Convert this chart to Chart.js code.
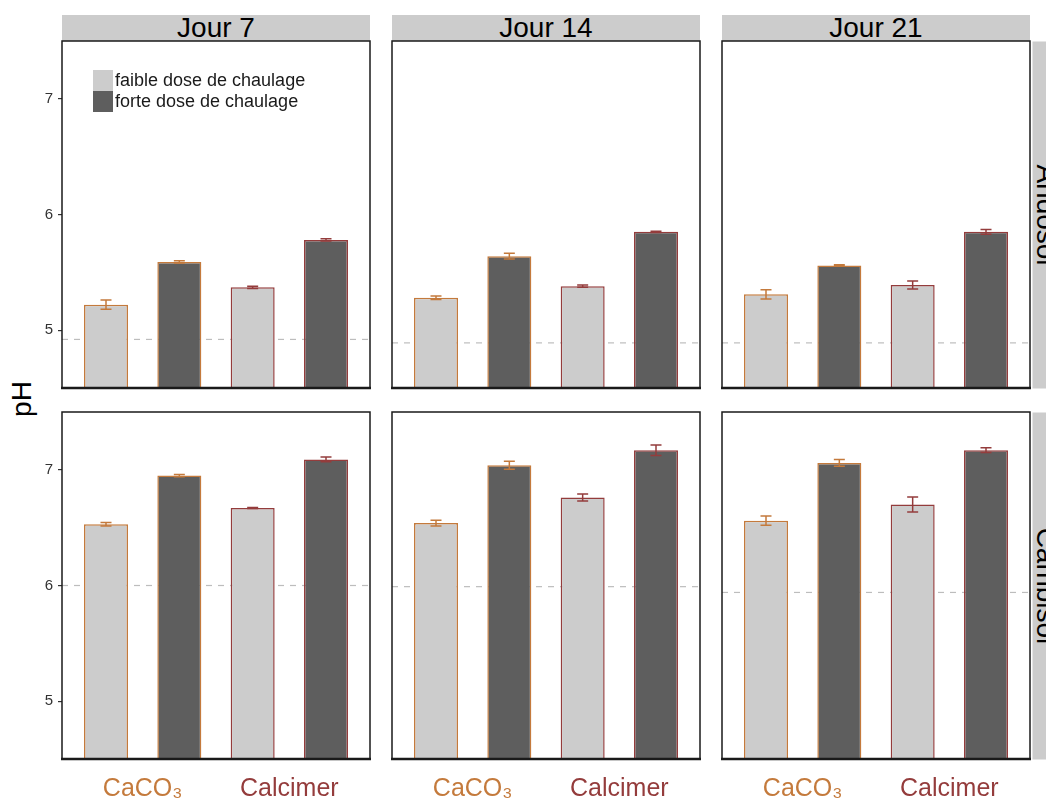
<!DOCTYPE html>
<html>
<head>
<meta charset="utf-8">
<title>pH par jour et par sol</title>
<script src="https://cdn.jsdelivr.net/npm/chart.js@4.4.1/dist/chart.umd.min.js"></script>
<style>
  html, body { margin: 0; padding: 0; background: #fff; overflow: hidden; }
  body { width: 1046px; height: 798px; position: relative; font-family: 'Liberation Sans', Arial, 'DejaVu Sans', sans-serif; }
  canvas { position: absolute; }
  .strip { position: absolute; background: #cccccc; color: #000; font-size: 28px; line-height: 26px; text-align: center; white-space: nowrap; }
  .ylab { position: absolute; font-size: 28px; color: #000; transform: rotate(-90deg); white-space: nowrap; }
  .legend { position: absolute; left: 93px; top: 70px; font-size: 18px; color: #1a1a1a; }
  .legend div { display: flex; align-items: center; height: 21px; }
  .legend span.key { width: 20px; height: 21px; margin-right: 2px; display: inline-block; }
</style>
</head>
<body>
<div id="root"></div>
<script>
// Facets and groups
const days = ['Jour 7', 'Jour 14', 'Jour 21'];
const soils = ['Andosol', 'Cambisol'];
const products = ['CaCO₃', 'Calcimer'];
const doses = ['faible dose de chaulage', 'forte dose de chaulage'];

// Bar order in every panel: CaCO3 faible, CaCO3 forte, Calcimer faible, Calcimer forte
// one row per day
const andosolPH = [
  [5.22, 5.59, 5.37, 5.78],
  [5.28, 5.64, 5.38, 5.85],
  [5.31, 5.56, 5.39, 5.85]
];
const andosolErr = [
  [0.04, 0.01, 0.01, 0.01],
  [0.015, 0.025, 0.01, 0.005],
  [0.04, 0.005, 0.035, 0.02]
];
const cambisolPH = [
  [6.53, 6.95, 6.67, 7.09],
  [6.54, 7.04, 6.76, 7.17],
  [6.56, 7.06, 6.70, 7.17]
];
const cambisolErr = [
  [0.015, 0.01, 0.005, 0.02],
  [0.025, 0.035, 0.03, 0.045],
  [0.04, 0.03, 0.065, 0.02]
];
// initial soil pH (dashed line)
const andosolInitial = [4.92, 4.89, 4.89];
const cambisolInitial = [6.00, 5.99, 5.94];

const yTicks = [5, 6, 7];

const productColors = ['#c47a3c', '#943c3c'];
const doseColors = ['#cccccc', '#5e5e5e'];
const FONT = "'Liberation Sans', Arial, 'DejaVu Sans', sans-serif";

// Layout of the grid
const panelLeft = [62, 392, 722];
const panelTop = [41, 412];
const panelW = 308, panelH = 347;
const pad = 3;

const root = document.getElementById('root');

function addDiv(cls, text, style) {
  const d = document.createElement('div');
  d.className = cls;
  d.textContent = text;
  Object.assign(d.style, style);
  root.appendChild(d);
  return d;
}

// Top strips
days.forEach((d, c) => {
  addDiv('strip', d, { left: panelLeft[c] + 'px', top: '15px', width: panelW + 'px', height: '26px' });
});

// Right strips (rotated)
soils.forEach((s, r) => {
  addDiv('strip', s, {
    left: (1032 + 13 - panelH / 2) + 'px',
    top: (panelTop[r] + panelH / 2 - 13) + 'px',
    width: panelH + 'px', height: '26px',
    transform: 'rotate(90deg)'
  });
});

// y axis title
addDiv('ylab', 'pH', { left: '4px', top: '383px' });

// Legend
const legend = document.createElement('div');
legend.className = 'legend';
doses.forEach((d, i) => {
  const row = document.createElement('div');
  row.innerHTML = `<span class="key" style="background:${doseColors[i]}"></span><span>${d}</span>`;
  legend.appendChild(row);
});

// Draw dashed baseline, error bars and panel frame
function makePanelPlugin(values, errors, initial) {
  return {
    id: 'panelDecor',
    beforeDatasetsDraw(chart) {
      const { ctx, chartArea: a, scales: { y } } = chart;
      const yy = y.getPixelForValue(initial);
      ctx.save();
      ctx.strokeStyle = '#bdbdbd';
      ctx.lineWidth = 1.2;
      ctx.setLineDash([6, 6]);
      ctx.beginPath();
      ctx.moveTo(a.left, yy);
      ctx.lineTo(a.right, yy);
      ctx.stroke();
      ctx.restore();
    },
    afterDatasetsDraw(chart) {
      const { ctx, chartArea: a, scales: { y } } = chart;
      const meta = chart.getDatasetMeta(0);
      ctx.save();
      ctx.lineWidth = 1.5;
      meta.data.forEach((bar, i) => {
        const top = y.getPixelForValue(values[i] + errors[i]);
        const bot = y.getPixelForValue(values[i] - errors[i]);
        ctx.strokeStyle = productColors[Math.floor(i / 2)];
        ctx.beginPath();
        ctx.moveTo(bar.x, top); ctx.lineTo(bar.x, bot);
        ctx.moveTo(bar.x - 5.5, top); ctx.lineTo(bar.x + 5.5, top);
        ctx.moveTo(bar.x - 5.5, bot); ctx.lineTo(bar.x + 5.5, bot);
        ctx.stroke();
      });
      ctx.strokeStyle = '#1a1a1a';
      ctx.lineWidth = 1.5;
      ctx.strokeRect(a.left, a.top, a.right - a.left, a.bottom - a.top);
      ctx.lineWidth = 2.5;
      ctx.beginPath();
      ctx.moveTo(a.left - 1, a.bottom);
      ctx.lineTo(a.right + 1, a.bottom);
      ctx.stroke();
      ctx.restore();
    }
  };
}

function makePanel(r, c) {
  const values = r === 0 ? andosolPH[c] : cambisolPH[c];
  const errors = r === 0 ? andosolErr[c] : cambisolErr[c];
  const initial = r === 0 ? andosolInitial[c] : cambisolInitial[c];
  const yW = c === 0 ? 62 : 0;
  const xH = r === 1 ? 39 : 0;

  const canvas = document.createElement('canvas');
  canvas.width = yW + panelW + 2 * pad;
  canvas.height = panelH + xH + 2 * pad;
  canvas.style.left = (panelLeft[c] - yW - pad) + 'px';
  canvas.style.top = (panelTop[r] - pad) + 'px';
  root.appendChild(canvas);

  new Chart(canvas, {
    type: 'bar',
    data: {
      datasets: [{
        data: values.map((v, i) => ({ x: i + 1, y: v })),
        backgroundColor: values.map((v, i) => doseColors[i % 2]),
        borderColor: values.map((v, i) => productColors[Math.floor(i / 2)]),
        borderWidth: 1.5,
        borderSkipped: false,
        categoryPercentage: 1,
        barPercentage: 0.6
      }]
    },
    options: {
      responsive: false,
      animation: false,
      devicePixelRatio: 1,
      layout: { padding: pad },
      plugins: { legend: { display: false }, tooltip: { enabled: false } },
      scales: {
        x: {
          type: 'linear',
          min: 0.4,
          max: 4.6,
          offset: false,
          display: r === 1,
          grid: { display: false, offset: false },
          border: { display: false },
          afterBuildTicks: s => { s.ticks = products.map((p, k) => ({ value: 2 * k + 1.5 })); },
          afterFit: s => { s.height = xH; s.paddingLeft = 0; s.paddingRight = 0; },
          ticks: {
            padding: 7,
            font: { size: 25, family: FONT },
            color: ctx => productColors[ctx.index],
            callback: (v, i) => products[i]
          }
        },
        y: {
          min: 4.5,
          max: 7.5,
          display: c === 0,
          border: { display: false },
          grid: { drawOnChartArea: false, drawTicks: true, tickLength: 4, color: '#333', lineWidth: 1.2 },
          afterBuildTicks: s => { s.ticks = yTicks.map(v => ({ value: v })); },
          afterFit: s => { s.width = yW; s.paddingTop = 0; s.paddingBottom = 0; },
          ticks: { padding: 5, font: { size: 15, family: FONT }, color: '#333' }
        }
      }
    },
    plugins: [makePanelPlugin(values, errors, initial)]
  });
}

soils.forEach((s, r) => days.forEach((d, c) => makePanel(r, c)));
root.appendChild(legend);
</script>
</body>
</html>
